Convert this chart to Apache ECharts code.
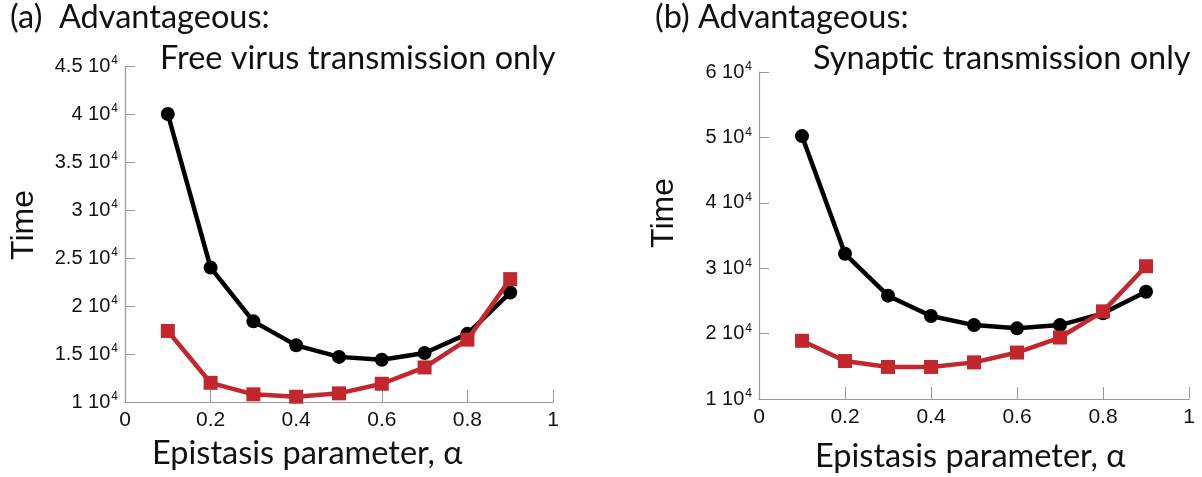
<!DOCTYPE html>
<html>
<head>
<meta charset="utf-8">
<title>Epistasis</title>
<script src="https://cdn.jsdelivr.net/npm/echarts@6/dist/echarts.min.js"></script>
<style>
  html, body { margin: 0; padding: 0; background: #fff; }
  #main { width: 1202px; height: 477px; }
</style>
</head>
<body>
<div id="main"></div>
<script>
// epistasis parameter values
var alpha = [0.1, 0.2, 0.3, 0.4, 0.5, 0.6, 0.7, 0.8, 0.9];

// (a) free virus transmission only
var blackA = [40000, 24000, 18400, 15900, 14700, 14400, 15100, 17100, 21400];
var redA   = [17400, 12000, 10800, 10550, 10900, 11900, 13600, 16500, 22800];

// (b) synaptic transmission only
var blackB = [50200, 32200, 25800, 22700, 21300, 20800, 21300, 23100, 26400];
var redB   = [18900, 15800, 14900, 14900, 15600, 17100, 19400, 23400, 30300];

var xTicks = ['0', '0.2', '0.4', '0.6', '0.8', '1'];

var tickFont = 'Liberation Sans Narrow, Liberation Sans, Arial, sans-serif';
var textFont = 'Lato, Open Sans, sans-serif';
var red = '#c1272d';

function pairs(ys) {
    return alpha.map(function (a, i) { return [a, ys[i]]; });
}

function yLabel(v) {
    var m = v / 10000;
    return '{m|' + m + ' 10}{s|4}';
}

function xAxisOf(idx) {
    return {
        gridIndex: idx, type: 'value', min: 0, max: 1, interval: 0.2,
        axisLine: { lineStyle: { color: '#999', width: 1.2 } },
        axisTick: { inside: true, length: 12, lineStyle: { color: '#999' } },
        splitLine: { show: false },
        axisLabel: {
            color: '#111', fontSize: 21, fontFamily: tickFont, margin: 8,
            formatter: function (v) { return xTicks[Math.round(v / 0.2)]; }
        }
    };
}

function yAxisOf(idx, max, interval) {
    return {
        gridIndex: idx, type: 'value', min: 10000, max: max, interval: interval,
        axisLine: { show: true, lineStyle: { color: '#999', width: 1.2 } },
        axisTick: { show: true, inside: true, length: 10, lineStyle: { color: '#999' } },
        splitLine: { show: false },
        axisLabel: {
            color: '#111', margin: 7, formatter: yLabel,
            rich: {
                m: { fontSize: 20, fontFamily: tickFont, color: '#111' },
                s: { fontSize: 12, fontFamily: tickFont, color: '#111', verticalAlign: 'top', padding: [0, 0, 10, 1] }
            }
        }
    };
}

function lineSeries(idx, data, color, symbol, z) {
    return {
        type: 'line', xAxisIndex: idx, yAxisIndex: idx,
        data: pairs(data), symbol: symbol, symbolSize: 14,
        lineStyle: { color: color, width: 4.5 },
        itemStyle: { color: color },
        z: z, animation: false
    };
}

var myChart = echarts.init(document.getElementById('main'));
var option = {
    backgroundColor: '#fff',
    animation: false,
    grid: [
        { left: 125, top: 66, width: 428, height: 336 },
        { left: 759, top: 72, width: 430, height: 327 }
    ],
    xAxis: [xAxisOf(0), xAxisOf(1)],
    yAxis: [yAxisOf(0, 45000, 5000), yAxisOf(1, 60000, 10000)],
    series: [
        lineSeries(0, blackA, '#000', 'circle', 2),
        lineSeries(0, redA, red, 'rect', 3),
        lineSeries(1, blackB, '#000', 'circle', 2),
        lineSeries(1, redB, red, 'rect', 3)
    ],
    graphic: [
        { type: 'text', left: 10, top: 1, style: { text: '(a)  Advantageous:', font: '32.5px ' + textFont, fill: '#111' } },
        { type: 'text', left: 160, top: 42, style: { text: 'Free virus transmission only', font: '32.5px ' + textFont, fill: '#111' } },
        { type: 'text', left: 655, top: 1, style: { text: '(b) Advantageous:', font: '32.5px ' + textFont, fill: '#111' } },
        { type: 'text', left: 813, top: 42, style: { text: 'Synaptic transmission only', font: '32.5px ' + textFont, fill: '#111' } },
        { type: 'text', left: 152, top: 437, style: { text: 'Epistasis parameter, \u03b1', font: '32.5px ' + textFont, fill: '#111' } },
        { type: 'text', left: 815, top: 440, style: { text: 'Epistasis parameter, \u03b1', font: '32.5px ' + textFont, fill: '#111' } },
        { type: 'text', x: 8, y: 225, rotation: Math.PI / 2, style: { text: 'Time', font: '32px Liberation Sans, Arial, sans-serif', fill: '#111', align: 'center', verticalAlign: 'top' } },
        { type: 'text', x: 648, y: 213, rotation: Math.PI / 2, style: { text: 'Time', font: '32px Liberation Sans, Arial, sans-serif', fill: '#111', align: 'center', verticalAlign: 'top' } }
    ]
};
myChart.setOption(option);
</script>
</body>
</html>
